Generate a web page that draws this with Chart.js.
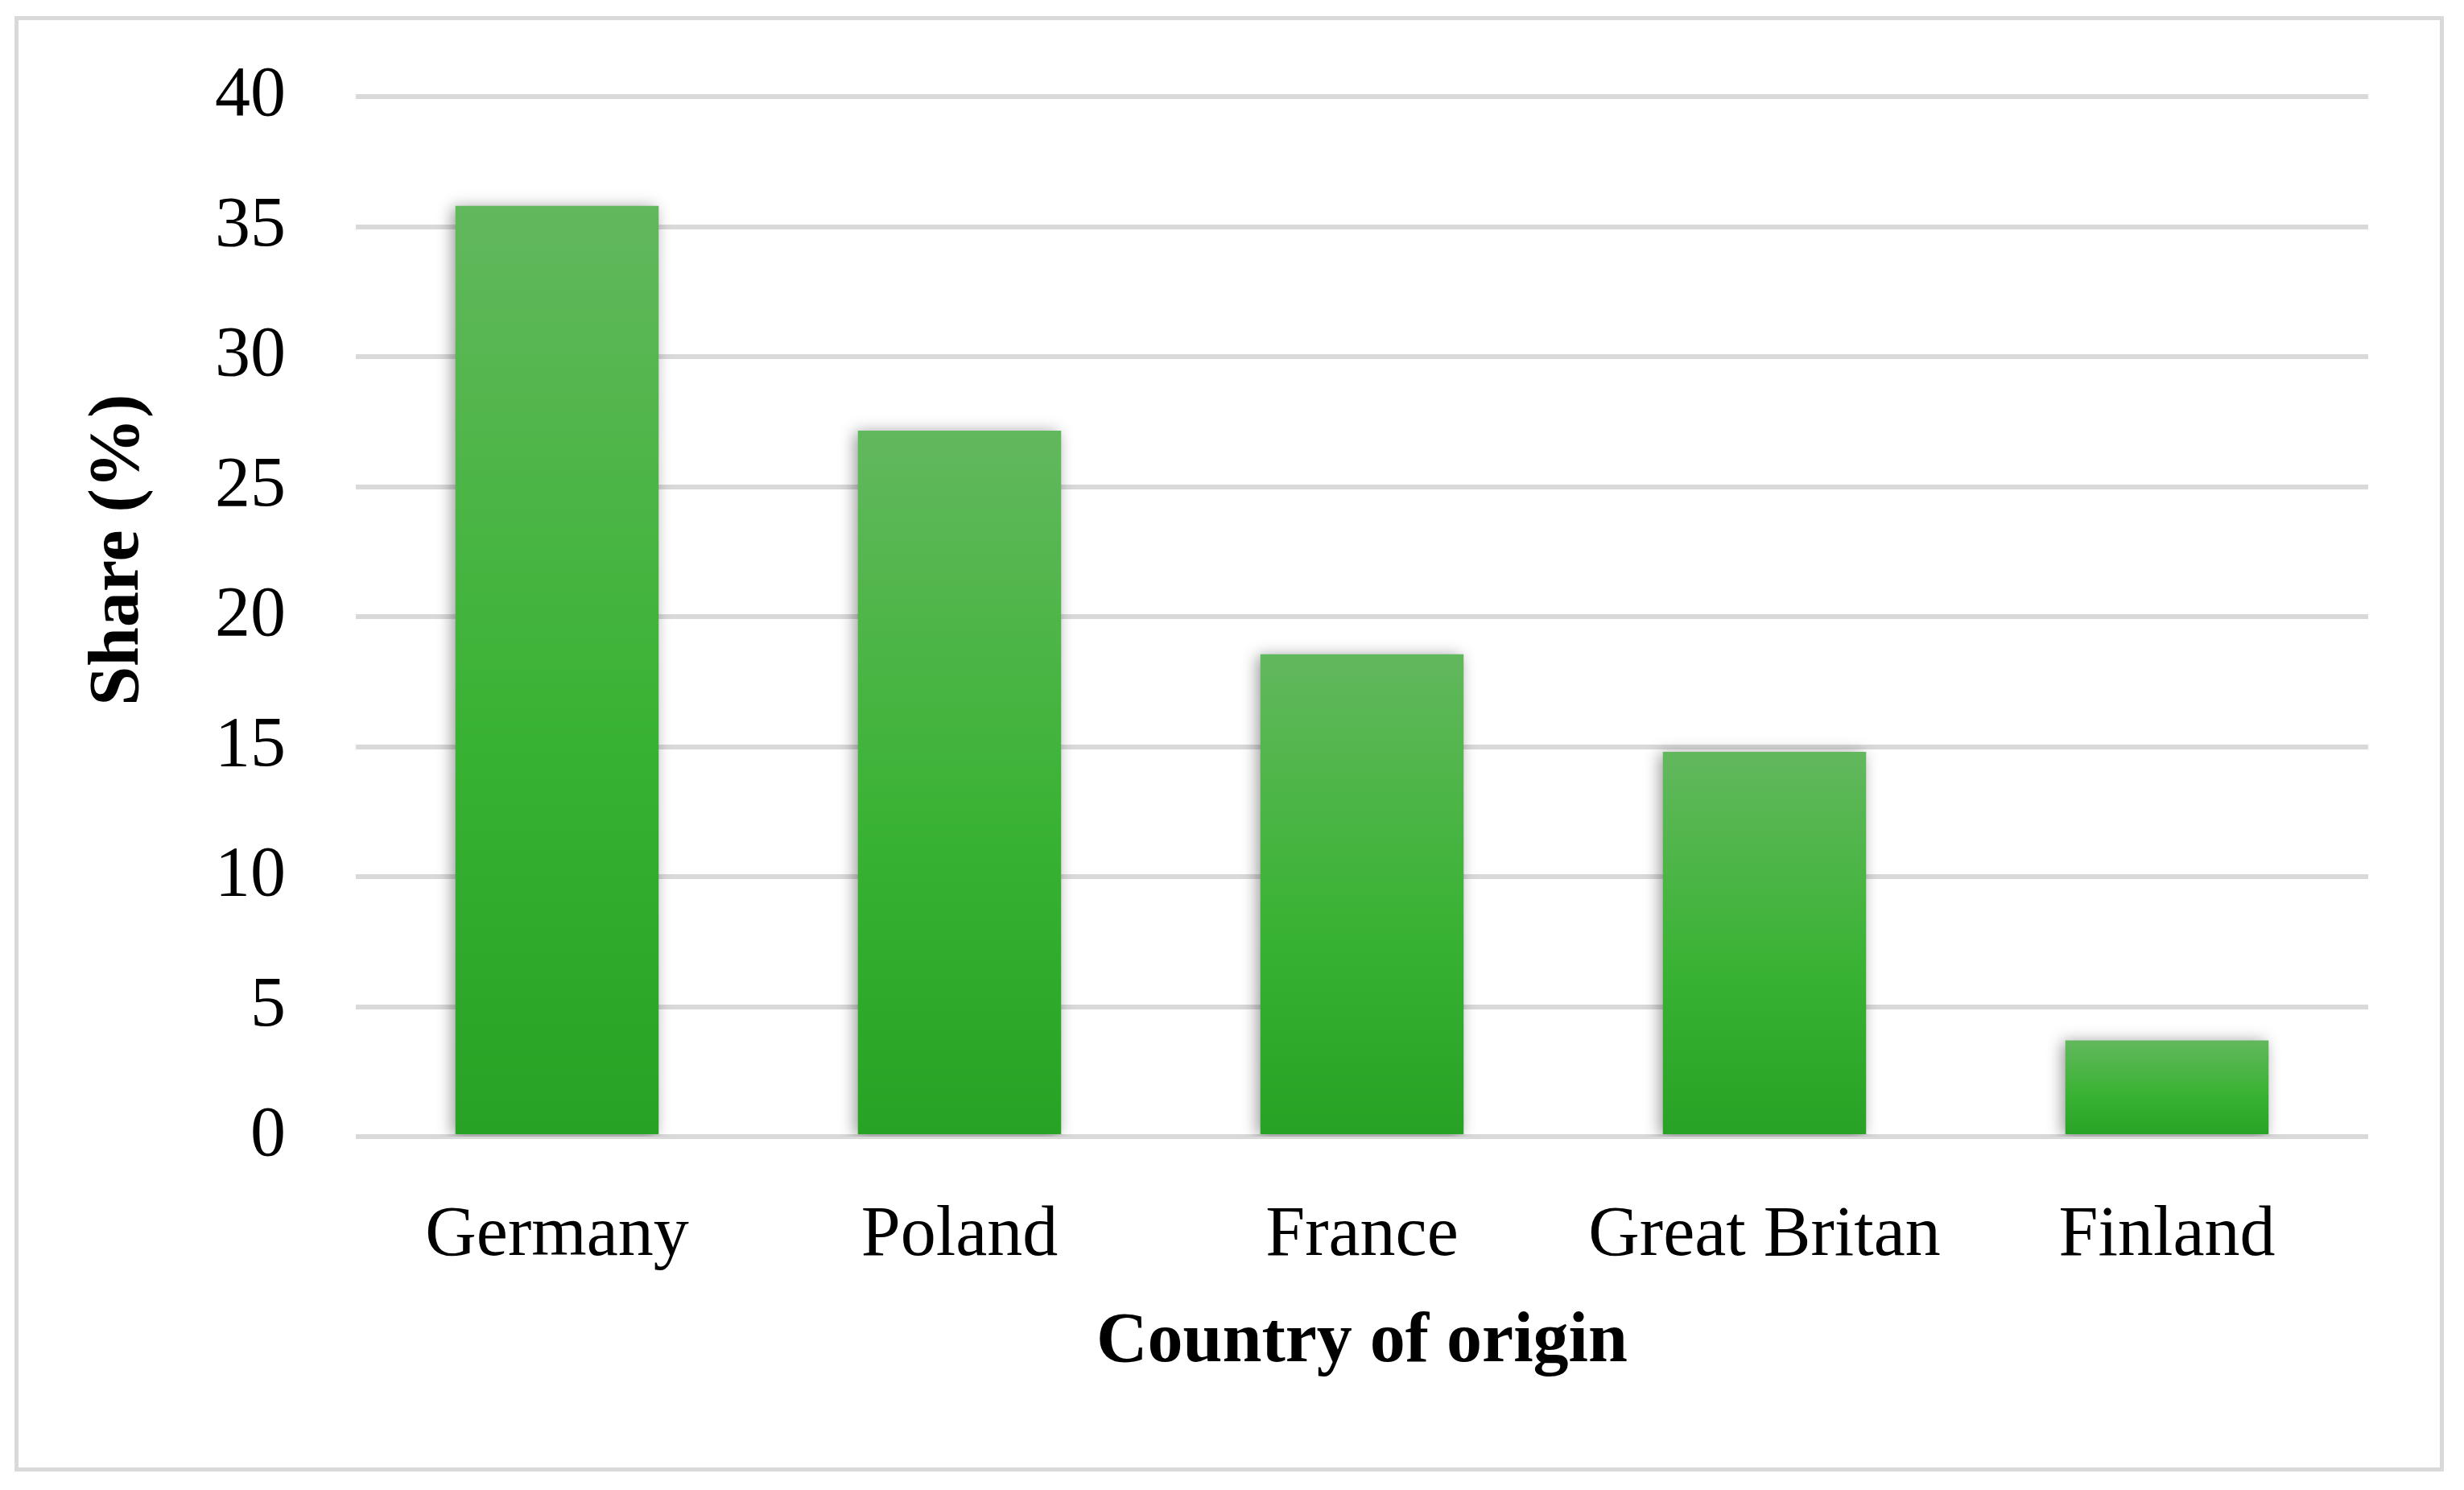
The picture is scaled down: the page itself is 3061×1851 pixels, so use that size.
<!DOCTYPE html>
<html>
<head>
<meta charset="utf-8">
<title>Share by country of origin</title>
<script src="https://cdn.jsdelivr.net/npm/chart.js@4.4.1/dist/chart.umd.min.js"></script>
<style>
  html, body { margin: 0; padding: 0; background: #fff; }
  #wrap { position: relative; width: 3061px; height: 1851px; }
  #frame {
    position: absolute; left: 18px; top: 20px; width: 3018px; height: 1808px;
    box-sizing: border-box; border: 5px solid #d9d9d9; pointer-events: none;
  }
  canvas { position: absolute; left: 0; top: 0; }
</style>
</head>
<body>
<div id="wrap">
  <canvas id="bar-chartcanvas" width="3061" height="1851"></canvas>
  <div id="frame"></div>
</div>
<script>
// data
var countries = ["Germany", "Poland", "France", "Great Britan", "Finland"];
var shares = [35.8, 27.15, 18.55, 14.8, 3.7];
var yTicks = [0, 5, 10, 15, 20, 25, 30, 35, 40];

var xTitle = "Country of origin";
var yTitle = "Share (%)";

var serif = "'Liberation Serif', 'Times New Roman', serif";

// per-bar vertical gradient, light green on top to darker green at the base
function barGradient(context) {
  var chart = context.chart;
  if (!chart.chartArea || !chart.scales.y) return "#3ab334";
  var y = chart.scales.y;
  var top = y.getPixelForValue(context.raw);
  var bottom = y.getPixelForValue(0);
  var g = chart.ctx.createLinearGradient(0, top, 0, bottom);
  g.addColorStop(0, "#62b85d");
  g.addColorStop(0.55, "#3ab334");
  g.addColorStop(1, "#27a224");
  return g;
}

// soft drop shadow under the bars
var barShadow = {
  id: "barShadow",
  beforeDatasetsDraw: function(chart) {
    var ctx = chart.ctx;
    ctx.save();
    ctx.shadowColor = "rgba(0,0,0,0.4)";
    ctx.shadowBlur = 18;
    ctx.shadowOffsetX = -4;
    ctx.shadowOffsetY = 2;
  },
  afterDatasetsDraw: function(chart) {
    chart.ctx.restore();
  }
};

// y title sits a bit above the middle of the axis in the original
var yTitlePlugin = {
  id: "yTitlePlugin",
  afterDraw: function(chart) {
    var area = chart.chartArea;
    var ctx = chart.ctx;
    ctx.save();
    ctx.translate(148, area.top + 0.436 * (area.bottom - area.top));
    ctx.rotate(-Math.PI / 2);
    ctx.font = "bold 88px " + serif;
    ctx.fillStyle = "#000";
    ctx.textAlign = "center";
    ctx.textBaseline = "middle";
    ctx.fillText(yTitle, 0, 0);
    ctx.restore();
  }
};

var ctx1 = document.getElementById("bar-chartcanvas");

var data1 = {
  labels: countries,
  datasets: [
    {
      label: yTitle,
      data: shares,
      backgroundColor: barGradient,
      borderWidth: 0,
      categoryPercentage: 1,
      barPercentage: 0.505
    }
  ]
};

var options = {
  responsive: false,
  animation: false,
  layout: {
    padding: { left: 0, right: 119, top: 120, bottom: 0 }
  },
  plugins: {
    legend: { display: false },
    title: { display: false },
    tooltip: { enabled: false }
  },
  scales: {
    x: {
      afterFit: function(scale) { scale.height = 439; },
      grid: { display: false },
      border: { display: false },
      ticks: {
        color: "#000",
        padding: 63,
        font: { family: serif, size: 88 }
      },
      title: {
        display: true,
        text: xTitle,
        color: "#000",
        padding: { top: 0, bottom: 130 },
        font: { family: serif, size: 88, weight: "bold" }
      }
    },
    y: {
      min: 0,
      max: 40,
      afterFit: function(scale) { scale.width = 442; },
      afterBuildTicks: function(scale) {
        scale.ticks = yTicks.map(function(v) { return { value: v }; });
      },
      grid: { color: "#d9d9d9", lineWidth: 6, drawTicks: false },
      border: { display: false },
      ticks: {
        color: "#000",
        padding: 87,
        // small line height so the top label does not push the plot down
        font: { family: serif, size: 88, lineHeight: 0.7 }
      }
    }
  }
};

var chart1 = new Chart(ctx1, {
  type: "bar",
  data: data1,
  options: options,
  plugins: [barShadow, yTitlePlugin]
});
</script>
</body>
</html>
